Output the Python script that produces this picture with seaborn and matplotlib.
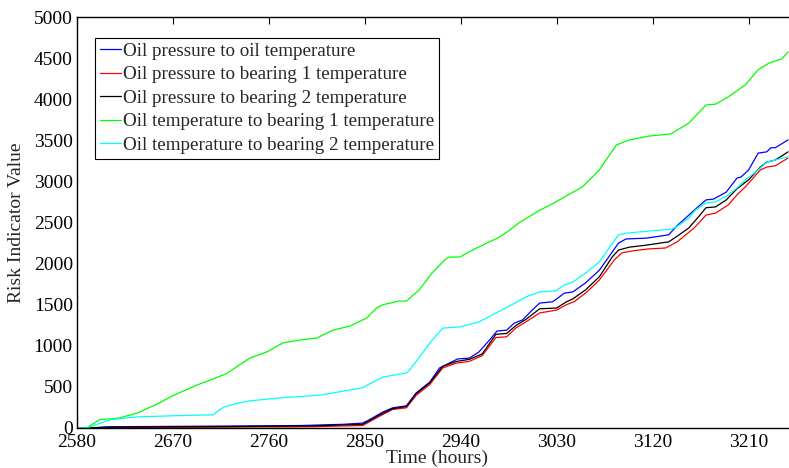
import matplotlib
matplotlib.use("Agg")
import matplotlib.pyplot as plt
import seaborn as sns
import pandas as pd

# Cumulative risk indicator per sensor pair (time in hours, value)
names = [
    "Oil pressure to oil temperature",
    "Oil pressure to bearing 1 temperature",
    "Oil pressure to bearing 2 temperature",
    "Oil temperature to bearing 1 temperature",
    "Oil temperature to bearing 2 temperature",
]
colors = ["#0000ff", "#ff0000", "#000000", "#00ff00", "#00ffff"]

p_oil_t = [2580, 2595, 2610, 2700, 2790, 2830, 2848, 2852, 2867, 2876, 2889, 2898, 2911,
           2920, 2937, 2948, 2957, 2967, 2974, 2983, 2990, 2998, 3007, 3014, 3026, 3031,
           3037, 3045, 3057, 3070, 3082, 3088, 3095, 3114, 3135, 3142, 3159, 3170, 3177,
           3189, 3199, 3203, 3210, 3219, 3227, 3231, 3235, 3247]
p_oil_v = [0, 0, 15, 22, 30, 45, 60, 85, 195, 245, 270, 425, 560,
           730, 840, 850, 925, 1070, 1180, 1190, 1275, 1315, 1435, 1520, 1535, 1580,
           1640, 1655, 1765, 1920, 2140, 2250, 2300, 2310, 2350, 2450, 2650, 2775, 2785,
           2870, 3040, 3055, 3140, 3345, 3360, 3410, 3410, 3505]

p_b1_t = [2580, 2612, 2700, 2800, 2848, 2867, 2876, 2889, 2898, 2911, 2923, 2936, 2948,
          2960, 2973, 2983, 2992, 3001, 3014, 3030, 3039, 3046, 3057, 3070, 3084, 3091,
          3101, 3117, 3132, 3143, 3159, 3170, 3179, 3191, 3199, 3207, 3221, 3227, 3235, 3247]
p_b1_v = [0, 5, 10, 15, 30, 165, 225, 245, 395, 530, 730, 790, 810,
          880, 1100, 1110, 1220, 1290, 1400, 1435, 1500, 1535, 1640, 1800, 2045, 2130,
          2155, 2180, 2190, 2265, 2435, 2590, 2615, 2715, 2835, 2935, 3140, 3175, 3190, 3285]

p_b2_t = [2580, 2610, 2700, 2800, 2848, 2867, 2876, 2889, 2898, 2911, 2923, 2936, 2948,
          2960, 2973, 2983, 2992, 3001, 3014, 3030, 3039, 3045, 3057, 3070, 3082, 3088,
          3098, 3114, 3135, 3142, 3154, 3163, 3170, 3179, 3189, 3199, 3210, 3221, 3227,
          3235, 3247]
p_b2_v = [0, 10, 15, 25, 45, 180, 235, 260, 415, 550, 750, 810, 835,
          900, 1140, 1150, 1250, 1320, 1450, 1460, 1535, 1570, 1680, 1840, 2080, 2165,
          2200, 2225, 2265, 2325, 2435, 2570, 2680, 2690, 2775, 2910, 3020, 3175, 3235,
          3260, 3360]

t_b1_t = [2580, 2589, 2601, 2611, 2619, 2636, 2655, 2671, 2692, 2705, 2720, 2742, 2758,
          2773, 2789, 2805, 2820, 2836, 2852, 2861, 2867, 2882, 2889, 2901, 2913, 2925,
          2929, 2939, 2951, 2966, 2976, 2985, 2995, 3004, 3014, 3022, 3034, 3054, 3070,
          3086, 3098, 3117, 3137, 3154, 3170, 3179, 3191, 3207, 3219, 3229, 3241, 3247]
t_b1_v = [0, 0, 100, 110, 120, 180, 290, 400, 520, 584, 660, 850, 925,
          1035, 1070, 1095, 1190, 1240, 1340, 1460, 1500, 1545, 1545, 1680, 1885, 2045,
          2080, 2080, 2165, 2260, 2320, 2400, 2500, 2570, 2650, 2700, 2787, 2933, 3140,
          3444, 3505, 3553, 3578, 3710, 3930, 3940, 4030, 4175, 4360, 4440, 4490, 4575]

t_b2_t = [2580, 2589, 2597, 2611, 2636, 2674, 2708, 2711, 2718, 2730, 2742, 2770, 2808,
          2826, 2848, 2852, 2867, 2889, 2892, 2904, 2911, 2923, 2939, 2957, 2973, 2988,
          3001, 3014, 3029, 3037, 3045, 3057, 3070, 3079, 3088, 3095, 3107, 3138, 3145,
          3154, 3160, 3170, 3179, 3191, 3199, 3207, 3219, 3227, 3235, 3247]
t_b2_v = [0, 0, 35, 100, 135, 150, 160, 195, 255, 300, 330, 365, 400,
          440, 490, 520, 620, 670, 705, 910, 1035, 1215, 1230, 1290, 1400, 1500,
          1595, 1655, 1670, 1740, 1775, 1885, 2020, 2190, 2350, 2370, 2385, 2420, 2470,
          2555, 2650, 2740, 2750, 2835, 2920, 3020, 3140, 3235, 3260, 3300]

x_ticks = [2580, 2670, 2760, 2850, 2940, 3030, 3120, 3210]
y_ticks = [0, 500, 1000, 1500, 2000, 2500, 3000, 3500, 4000, 4500, 5000]

series_t = [p_oil_t, p_b1_t, p_b2_t, t_b1_t, t_b2_t]
series_v = [p_oil_v, p_b1_v, p_b2_v, t_b1_v, t_b2_v]
frames = [pd.DataFrame({"time": t, "risk": v, "pair": n})
          for t, v, n in zip(series_t, series_v, names)]
df = pd.concat(frames, ignore_index=True)

sns.set_style("white")
plt.rcParams["font.family"] = ["Liberation Serif", "DejaVu Serif"]

fig = plt.figure(figsize=(7.89, 4.68), dpi=100)
ax = fig.add_axes([0.0976, 0.0855, 0.912, 0.878])

sns.lineplot(data=df, x="time", y="risk", hue="pair", hue_order=names,
             palette=dict(zip(names, colors)), estimator=None, sort=False,
             linewidth=0.9, ax=ax)

ax.set_xlim(2580, 3255)
ax.set_ylim(0, 5000)
ax.set_xticks(x_ticks)
ax.set_yticks(y_ticks)
ax.tick_params(direction="in", length=5, width=0.8, top=True, right=True,
               labelsize=14, colors="black")
ax.tick_params(axis="x", pad=4.5)
ax.tick_params(axis="y", pad=3)
for s in ax.spines.values():
    s.set_color("black")
    s.set_linewidth(1.0)

ax.set_xlabel("Time (hours)", fontsize=14, labelpad=-1)
ax.set_ylabel("Risk Indicator Value", fontsize=14, labelpad=6)

leg = ax.legend(loc="upper left", bbox_to_anchor=(0.025, 0.95), borderaxespad=0,
                fontsize=13.7, frameon=True, fancybox=False, framealpha=1,
                edgecolor="black", handlelength=1.1, handletextpad=0.1,
                labelspacing=0.33, borderpad=0.25)
leg.get_frame().set_linewidth(0.8)

fig.savefig("out.png", dpi=100)
